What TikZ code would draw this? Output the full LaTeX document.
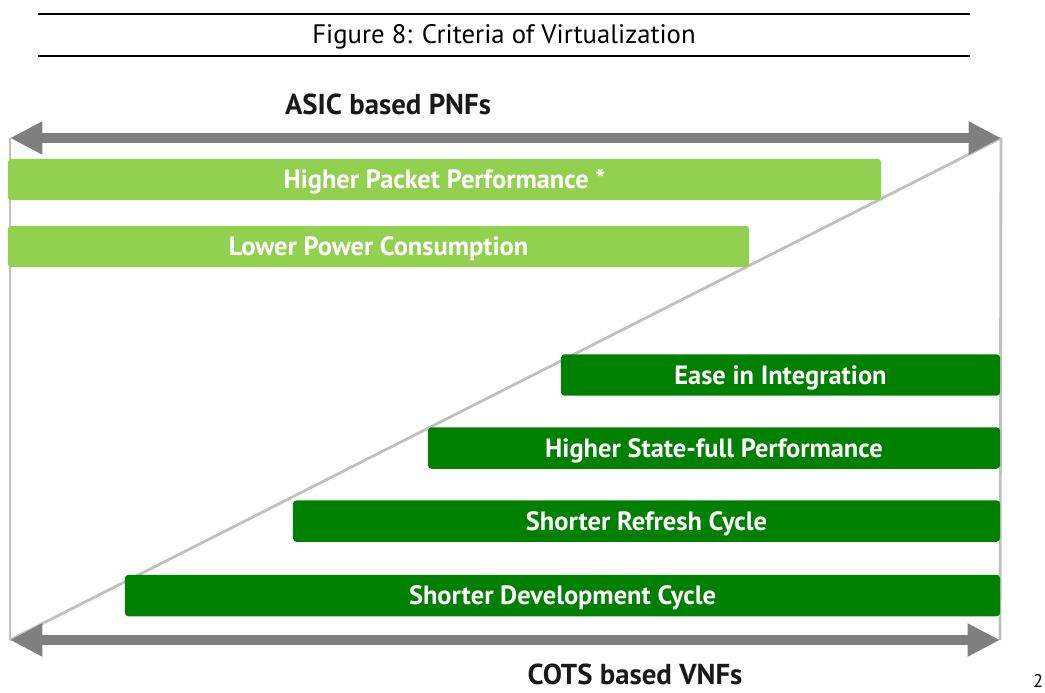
\documentclass[tikz,border=0pt]{standalone}
\usepackage{fontspec}
\setmainfont{PT Sans}
\usetikzlibrary{arrows.meta}
\definecolor{lgreen}{HTML}{92D050}
\definecolor{dgreen}{HTML}{008000}
\definecolor{arrgray}{HTML}{7F7F7F}
\definecolor{guide}{HTML}{C0C0C0}
\begin{document}
\begin{tikzpicture}[x=0.025cm,y=-0.025cm,
  bar/.style={rounded corners=2.5pt,inner sep=0pt,minimum height=29.5pt,text=white,font=\fontsize{18.8}{22}\selectfont\bfseries},
  lbar/.style={bar,fill=lgreen},
  dbar/.style={bar,fill=dgreen},
  bartext/.style={text=white,inner sep=0pt,font=\fontsize{18.8}{22}\selectfont\bfseries},
  bigarrow/.style={arrgray,line width=6.5pt,{Triangle[length=23pt,width=22pt]}-{Triangle[length=23pt,width=22pt]}},
  guideline/.style={guide,line width=2pt},
  axislabel/.style={inner sep=0pt,font=\fontsize{20.5}{24}\selectfont\bfseries,text=black!90},
  rule/.style={line width=1.4pt,black}]
\useasboundingbox (0,0) rectangle (1045,692);
% title rules
\coordinate (r1a) at (38,14); \coordinate (r1b) at (970,14);
\coordinate (r2a) at (38,56); \coordinate (r2b) at (970,56);
\draw[rule] (r1a) -- (r1b);
\draw[rule] (r2a) -- (r2b);
\node[font=\fontsize{19}{22}\selectfont] (title) at (504,37) {Figure 8: Criteria of Virtualization};
% guide lines
\coordinate (TL) at (10,138); \coordinate (TR) at (1001,138);
\coordinate (BL) at (10,640); \coordinate (BR) at (1000,640);
\draw[guideline] (TL) -- (BL);
\draw[guideline] (TR) -- (BR);
\draw[guideline] (TR) -- (BL);
% bars
\node[lbar,minimum width=873*0.7113pt] (b1) at (444.5,179.5) {};
\node[lbar,minimum width=741*0.7113pt] (b2) at (378.5,246.5) {};
\node[dbar,minimum width=439*0.7113pt] (b3) at (780.5,375) {};
\node[dbar,minimum width=572*0.7113pt] (b4) at (714,448) {};
\node[dbar,minimum width=707*0.7113pt] (b5) at (646.5,521) {};
\node[dbar,minimum width=875*0.7113pt] (b6) at (562.5,595.5) {};
\node[bartext,yshift=-1.8pt] (t1) at (b1) {Higher Packet Performance *};
\node[bartext,yshift=-1.8pt] (t2) at (b2) {Lower Power Consumption};
\node[bartext,yshift=-1.8pt] (t3) at (b3) {Ease in Integration};
\node[bartext,yshift=-1.8pt] (t4) at (b4) {Higher State-full Performance};
\node[bartext,yshift=-1.8pt] (t5) at (b5) {Shorter Refresh Cycle};
\node[bartext,yshift=-1.8pt] (t6) at (b6) {Shorter Development Cycle};
% arrows
\draw[bigarrow] (TL) -- (TR);
\draw[bigarrow] (BL) -- (BR);
\node[axislabel] (asic) at (388,104) {ASIC based PNFs};
\node[axislabel] (cots) at (635,674) {COTS based VNFs};
\node[font=\fontsize{13}{15}\selectfont] (page) at (1038,681) {2};
\end{tikzpicture}
\end{document}
